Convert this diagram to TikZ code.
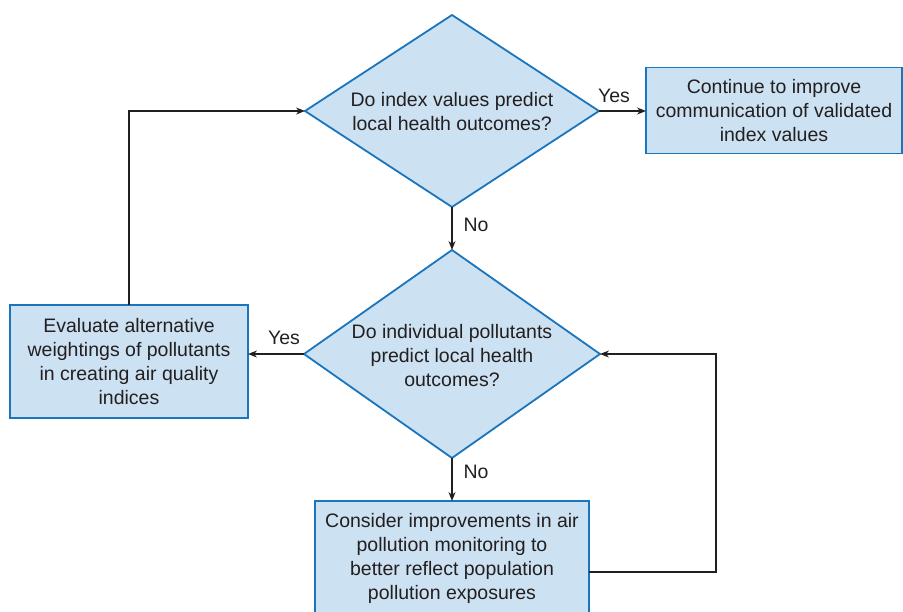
\documentclass[tikz,border=0pt]{standalone}
\usepackage{fontspec}
\setmainfont{Liberation Sans}
\usetikzlibrary{shapes.geometric,arrows.meta}
\definecolor{boxfill}{HTML}{CCE1F1}
\definecolor{boxline}{HTML}{1B75BC}
\definecolor{ink}{HTML}{231F20}
\begin{document}
\begin{tikzpicture}[x=1pt,y=-1pt,
  every node/.style={text=ink,font=\fontsize{19.5}{24}\selectfont},
  dia/.style={diamond,draw=boxline,fill=boxfill,line width=1.8pt,inner sep=0pt,outer sep=0pt},
  rbox/.style={rectangle,draw=boxline,fill=boxfill,line width=1.8pt,inner sep=0pt,outer sep=0pt,align=center},
  txt/.style={align=center,inner sep=0pt},
  arr/.style={draw=ink,line width=1.4pt,-{Stealth[length=9pt,width=7pt]}},
  lbl/.style={inner sep=0pt}]
\useasboundingbox (0,0) rectangle (903,611);
\node[dia,minimum width=294pt,minimum height=192pt] (d1) at (452,111) {};
\node[txt] (t1) at (452,112) {Do index values predict\\local health outcomes?};
\node[dia,minimum width=296pt,minimum height=208pt] (d2) at (452,354) {};
\node[txt] (t2) at (452,356) {Do individual pollutants\\predict local health\\outcomes?};
\node[rbox,minimum width=256pt,minimum height=86pt] (b1) at (774,110.5) {Continue to improve\\communication of validated\\index values};
\node[rbox,minimum width=238pt,minimum height=113pt] (bl) at (129,361.5) {Evaluate alternative\\weightings of pollutants\\in creating air quality\\indices};
\node[rbox,minimum width=274pt,minimum height=114pt] (bb) at (452,558) {Consider improvements in air\\pollution monitoring to\\better reflect population\\pollution exposures};
\coordinate (cr) at (716,354);
\draw[arr] (d1.east) -- (d1.east -| b1.west);
\draw[arr] (d1.south) -- (d2.north);
\draw[arr] (d2.west) -- (d2.west -| bl.east);
\draw[arr] (d2.south) -- (bb.north);
\draw[arr] (bl.north) |- (d1.west);
\draw[arr] ([yshift=-14pt]bb.east) -| (cr) -- (d2.east);
\node[lbl] (y1) at (614,96) {Yes};
\node[lbl] (n1) at (476,225) {No};
\node[lbl] (y2) at (284,338) {Yes};
\node[lbl] (n2) at (476,472) {No};
\end{tikzpicture}
\end{document}
